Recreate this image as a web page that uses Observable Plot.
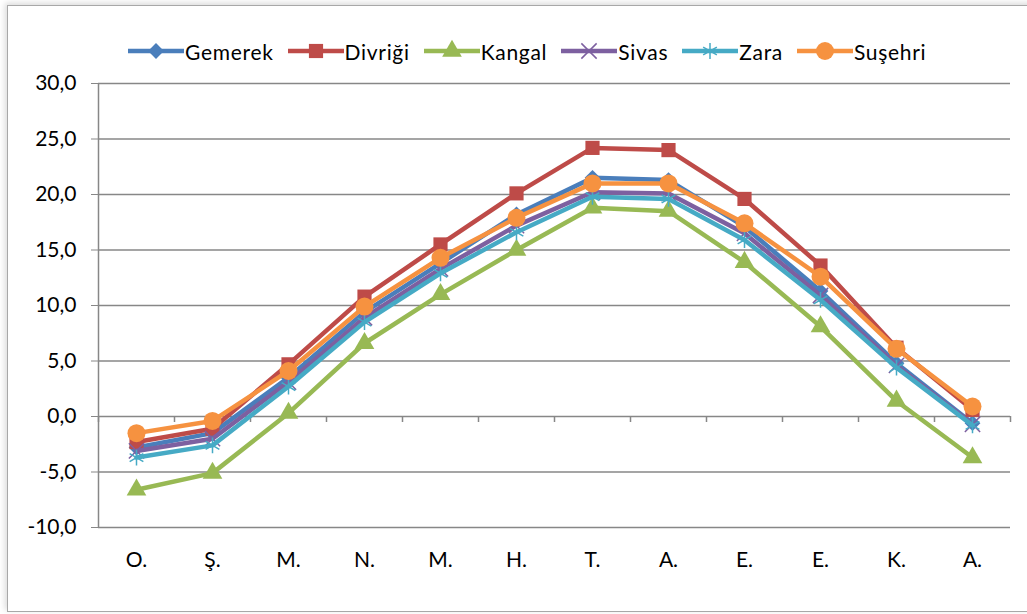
<!DOCTYPE html>
<html><head><meta charset="utf-8">
<script src="https://cdn.jsdelivr.net/npm/d3@7"></script>
<script src="https://cdn.jsdelivr.net/npm/@observablehq/plot@0.6"></script>
<style>
body{margin:0;background:#fff;font-family:Lato,"Open Sans",sans-serif;}
#wrap{position:relative;width:1027px;height:614px;overflow:hidden;background:#fff;}
#frame{position:absolute;left:7px;top:5px;width:1040px;height:605px;border:1.5px solid #a8a8a8;box-shadow:-2px -2px 6px rgba(0,0,0,0.15);pointer-events:none;}
#legend{position:relative;height:70px;display:flex;align-items:center;padding-left:128px;padding-top:32px;box-sizing:border-box;font-size:21px;letter-spacing:0.7px;}
.item{display:flex;align-items:center;margin-right:14px;}
.item svg{margin-right:1px;}
#chart{position:relative;}
</style></head>
<body><div id="wrap"><div id="frame"></div><div id="legend"></div><div id="chart"></div></div>
<script>
const months = ["O.","Ş.","M.","N.","M.","H.","T.","A.","E.","E.","K.","A."];
const stations = ["Gemerek","Divriği","Kangal","Sivas","Zara","Suşehri"];
const gemerek = [-2.8, -1.5, 3.5, 9.4, 13.8, 18.2, 21.5, 21.3, 17.1, 11.3, 4.8, -0.6];
const divrigi = [-2.3, -1.1, 4.7, 10.8, 15.5, 20.1, 24.2, 24.0, 19.6, 13.6, 6.2, 0.6];
const kangal  = [-6.6, -5.1, 0.3, 6.6, 11.0, 15.0, 18.8, 18.5, 13.9, 8.1, 1.4, -3.7];
const sivas   = [-3.1, -2.0, 3.1, 8.9, 13.3, 17.2, 20.2, 20.1, 16.5, 10.9, 4.6, -0.7];
const zara    = [-3.7, -2.6, 2.7, 8.5, 12.9, 16.6, 19.8, 19.6, 15.9, 10.5, 4.4, -0.8];
const susehri = [-1.5, -0.4, 4.1, 9.9, 14.3, 17.9, 21.0, 21.0, 17.4, 12.6, 6.1, 0.9];
const yTicks = [-10, -5, 0, 5, 10, 15, 20, 25, 30];

const series = [gemerek, divrigi, kangal, sivas, zara, susehri];
const colors = ["#4a7ebb", "#be4b48", "#98b954", "#7d60a0", "#46aac5", "#f69240"];
const symbols = [
  {symbol: "square", r: 6.3, rotate: 45, filled: true},
  {symbol: "square", r: 8, rotate: 0, filled: true},
  {symbol: "triangle", r: 7.3, rotate: 0, filled: true},
  {symbol: "times", r: 7, rotate: 0, filled: false},
  {symbol: "asterisk", r: 7.5, rotate: 0, filled: false},
  {symbol: "circle", r: 9, rotate: 0, filled: true}
];
const d3sym = {square: d3.symbolSquare, triangle: d3.symbolTriangle, times: d3.symbolTimes, asterisk: d3.symbolAsterisk, circle: d3.symbolCircle};

const fmt = d => d.toFixed(1).replace(".", ",");
const gray = "#878787";

// Legend
const legend = document.getElementById("legend");
stations.forEach((s, k) => {
  const it = document.createElement("div");
  it.className = "item";
  const sv = d3.create("svg").attr("width", 56).attr("height", 24);
  sv.append("line").attr("x1", 0).attr("x2", 56).attr("y1", 12).attr("y2", 12)
    .attr("stroke", colors[k]).attr("stroke-width", 4.5);
  const m = symbols[k];
  sv.append("path")
    .attr("d", d3.symbol(d3sym[m.symbol], Math.PI * m.r * m.r)())
    .attr("transform", `translate(28,12) rotate(${m.rotate})`)
    .attr("fill", m.filled ? colors[k] : "none")
    .attr("stroke", colors[k])
    .attr("stroke-width", m.filled ? 0 : 1.5);
  it.appendChild(sv.node());
  const t = document.createElement("span");
  t.textContent = s;
  it.appendChild(t);
  legend.appendChild(it);
});

const seriesMarks = stations.flatMap((s, k) => {
  const rows = series[k].map((v, i) => ({i, v}));
  const m = symbols[k];
  return [
    Plot.line(rows, {x: d => d.i + 0.5, y: "v", stroke: colors[k], strokeWidth: 4.5, strokeLinejoin: "round"}),
    Plot.dot(rows, {x: d => d.i + 0.5, y: "v", symbol: m.symbol, r: m.r, rotate: m.rotate,
      fill: m.filled ? colors[k] : "none", stroke: colors[k], strokeWidth: m.filled ? 0 : 1.5})
  ];
});

const chart = Plot.plot({
  width: 1027, height: 544,
  marginTop: 13, marginBottom: 87, marginLeft: 98, marginRight: 17,
  x: {type: "linear", domain: [0, 12], axis: null},
  y: {domain: [-10, 30], axis: null},
  style: {fontFamily: "Lato, 'Open Sans', sans-serif", fontSize: "21px", color: "#000", background: "transparent"},
  marks: [
    Plot.ruleY(yTicks, {stroke: gray, strokeWidth: 1.3}),
    Plot.ruleX([0], {stroke: gray, strokeWidth: 1.5}),
    Plot.ruleX(d3.range(13), {y1: 0, y2: 0, insetBottom: -6, stroke: gray, strokeWidth: 1.5}),
    Plot.axisY({ticks: yTicks, tickSize: 7, tickPadding: 15, tickFormat: fmt, label: null, stroke: gray, strokeOpacity: 1}),
    Plot.axisX({ticks: months.map((_, i) => i + 0.5), tickFormat: d => months[Math.floor(d)], tickSize: 0, tickPadding: 25, label: null}),
    ...seriesMarks
  ]
});
document.getElementById("chart").appendChild(chart);
</script>
</body></html>
